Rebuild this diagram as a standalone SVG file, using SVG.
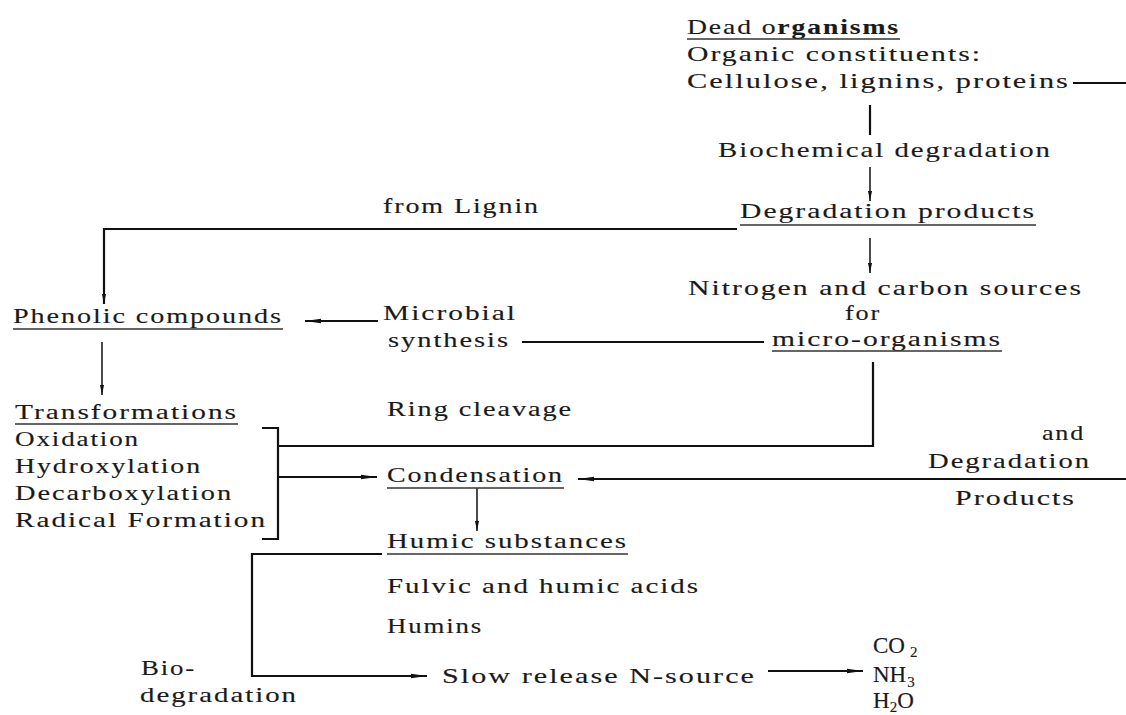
<svg xmlns="http://www.w3.org/2000/svg" width="1126" height="715" viewBox="0 0 1126 715">
<style>
text{font-family:"Liberation Serif","DejaVu Serif",serif;font-size:22px;letter-spacing:1.5px;fill:#1a1a1a;stroke:#1a1a1a;stroke-width:0.15}
.sm{font-size:15px}
.g{font-size:23px;letter-spacing:0}
.ul{stroke:#333;stroke-width:1.6;fill:none}
.c{stroke:#111;stroke-width:2.2;fill:none}
.ct{stroke:#111;stroke-width:1.5;fill:none}
</style>
<defs>
<marker id="ah" viewBox="0 0 16 6" refX="16" refY="3" markerWidth="16" markerHeight="6" markerUnits="userSpaceOnUse" orient="auto">
<path d="M0,0.8 L16,3 L0,5.2 z" fill="#111"/>
</marker>
<marker id="ahs" viewBox="0 0 10 5" refX="10" refY="2.5" markerWidth="10" markerHeight="5" markerUnits="userSpaceOnUse" orient="auto">
<path d="M0,0.5 L10,2.5 L0,4.5 z" fill="#111"/>
</marker>
</defs>
<rect width="1126" height="715" fill="#fff"/>

<g id="connectors">
<line class="c" x1="1073" y1="83" x2="1126" y2="83"/>
<line class="c" x1="870" y1="105" x2="870" y2="135" stroke-width="3"/>
<line class="ct" x1="870" y1="167" x2="870" y2="201" marker-end="url(#ahs)"/>
<path class="c" d="M737,229 H104 V304" marker-end="url(#ahs)"/>
<line class="ct" x1="870" y1="238" x2="870" y2="273" marker-end="url(#ahs)"/>
<line class="c" x1="378" y1="321" x2="305" y2="321" marker-end="url(#ah)"/>
<line class="c" x1="522" y1="342" x2="764" y2="342"/>
<line class="ct" x1="102" y1="342" x2="102" y2="395" marker-end="url(#ahs)"/>
<path class="c" d="M873,362 V446 H278"/>
<path class="c" d="M262,428 H278 V539 H262"/>
<line class="c" x1="278" y1="477" x2="377" y2="477" marker-end="url(#ah)"/>
<line class="c" x1="1126" y1="479" x2="578" y2="479" marker-end="url(#ah)"/>
<line class="ct" x1="477" y1="488" x2="477" y2="531" marker-end="url(#ahs)"/>
<path class="c" d="M382,554 H252 V676 H427" marker-end="url(#ah)"/>
<line class="c" x1="768" y1="671" x2="863" y2="671" marker-end="url(#ah)"/>
</g>

<g id="dead-organisms">
<text x="687" y="34" textLength="213" lengthAdjust="spacingAndGlyphs">Dead o<tspan font-weight="bold">rganisms</tspan></text>
<line class="ul" x1="687" y1="39" x2="900" y2="39"/>
<text x="687" y="61" textLength="295" lengthAdjust="spacingAndGlyphs">Organic constituents:</text>
<text x="687" y="88" textLength="383" lengthAdjust="spacingAndGlyphs">Cellulose, lignins, proteins</text>
</g>

<g id="biochemical-degradation">
<text x="718" y="157" textLength="334" lengthAdjust="spacingAndGlyphs">Biochemical degradation</text>
</g>

<g id="from-lignin">
<text x="383" y="213" textLength="157" lengthAdjust="spacingAndGlyphs">from Lignin</text>
</g>

<g id="degradation-products">
<text x="740" y="218" textLength="296" lengthAdjust="spacingAndGlyphs">Degradation products</text>
<line class="ul" x1="740" y1="225" x2="1036" y2="225"/>
</g>

<g id="nc-sources">
<text x="688" y="295" textLength="395" lengthAdjust="spacingAndGlyphs">Nitrogen and carbon sources</text>
<text x="845" y="320" textLength="36" lengthAdjust="spacingAndGlyphs">for</text>
<text x="772" y="346" textLength="230" lengthAdjust="spacingAndGlyphs">micro-organisms</text>
<line class="ul" x1="772" y1="351" x2="1002" y2="351"/>
</g>

<g id="phenolic-compounds">
<text x="13" y="323" textLength="270" lengthAdjust="spacingAndGlyphs">Phenolic compounds</text>
<line class="ul" x1="13" y1="329" x2="283" y2="329"/>
</g>

<g id="microbial-synthesis">
<text x="383" y="320" textLength="134" lengthAdjust="spacingAndGlyphs">Microbial</text>
<text x="388" y="347" textLength="122" lengthAdjust="spacingAndGlyphs">synthesis</text>
</g>

<g id="transformations">
<text x="15" y="419" textLength="223" lengthAdjust="spacingAndGlyphs">Transformations</text>
<line class="ul" x1="15" y1="424" x2="238" y2="424"/>
<text x="15" y="446" textLength="125" lengthAdjust="spacingAndGlyphs">Oxidation</text>
<text x="15" y="473" textLength="187" lengthAdjust="spacingAndGlyphs">Hydroxylation</text>
<text x="15" y="500" textLength="218" lengthAdjust="spacingAndGlyphs">Decarboxylation</text>
<text x="15" y="527" textLength="252" lengthAdjust="spacingAndGlyphs">Radical Formation</text>
</g>

<g id="ring-cleavage">
<text x="387" y="416" textLength="186" lengthAdjust="spacingAndGlyphs">Ring cleavage</text>
</g>

<g id="condensation">
<text x="387" y="482" textLength="177" lengthAdjust="spacingAndGlyphs">Condensation</text>
<line class="ul" x1="387" y1="488" x2="564" y2="488"/>
</g>

<g id="and-degradation-products">
<text x="1042" y="440" textLength="43" lengthAdjust="spacingAndGlyphs">and</text>
<text x="928" y="468" textLength="163" lengthAdjust="spacingAndGlyphs">Degradation</text>
<text x="955" y="505" textLength="121" lengthAdjust="spacingAndGlyphs">Products</text>
</g>

<g id="humic-substances">
<text x="387" y="548" textLength="241" lengthAdjust="spacingAndGlyphs">Humic substances</text>
<line class="ul" x1="387" y1="554" x2="628" y2="554"/>
<text x="387" y="593" textLength="313" lengthAdjust="spacingAndGlyphs">Fulvic and humic acids</text>
<text x="387" y="633" textLength="96" lengthAdjust="spacingAndGlyphs">Humins</text>
</g>

<g id="biodegradation">
<text x="141" y="675" textLength="55" lengthAdjust="spacingAndGlyphs">Bio-</text>
<text x="140" y="702" textLength="158" lengthAdjust="spacingAndGlyphs">degradation</text>
</g>

<g id="slow-release">
<text x="442" y="683" textLength="314" lengthAdjust="spacingAndGlyphs">Slow release N-source</text>
</g>

<g id="products-gases">
<text class="g" x="873" y="653">CO<tspan class="sm" dx="5" dy="4">2</tspan></text>
<text class="g" x="873" y="682">NH<tspan class="sm" dx="1" dy="5">3</tspan></text>
<text class="g" x="873" y="708">H<tspan class="sm" dx="0" dy="4">2</tspan><tspan dy="-4">O</tspan></text>
</g>
</svg>
